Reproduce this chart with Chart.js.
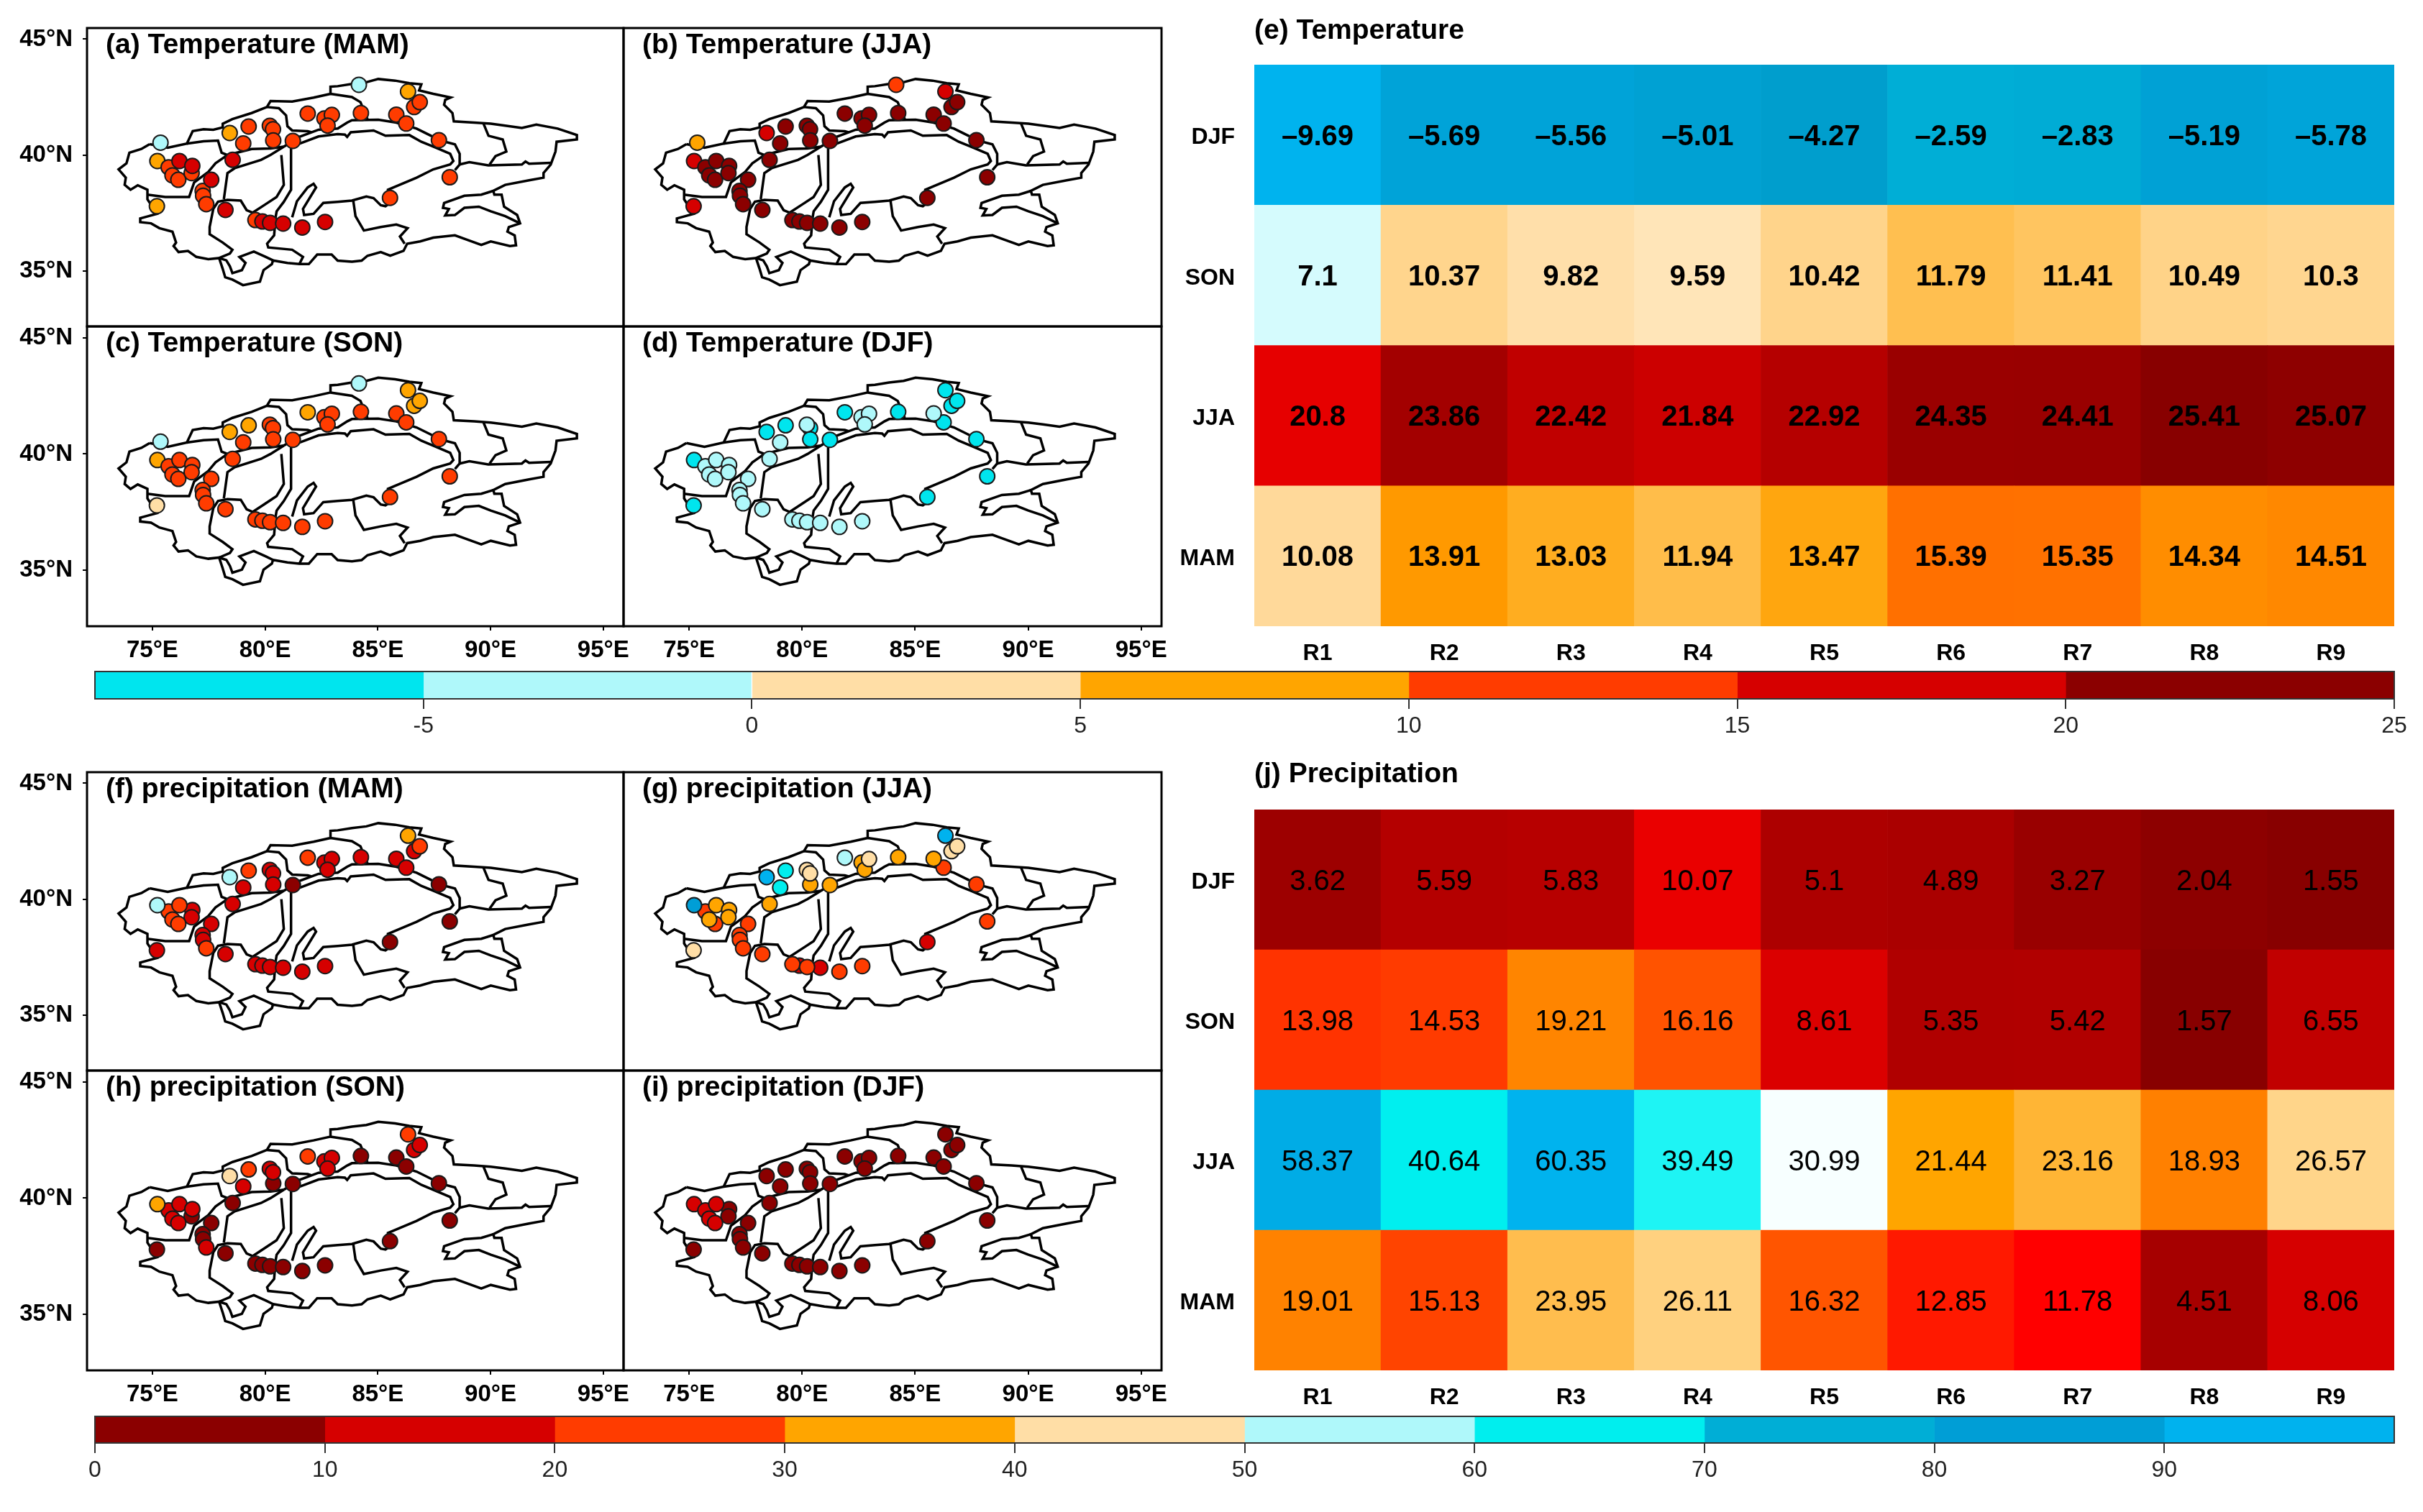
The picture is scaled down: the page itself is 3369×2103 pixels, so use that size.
<!DOCTYPE html>
<html>
<head>
<meta charset="utf-8">
<title>Temperature and precipitation by season</title>
<script src="https://cdn.jsdelivr.net/npm/chart.js@4/dist/chart.umd.min.js"></script>
<style>
  html, body { margin: 0; padding: 0; background: #fff; }
  body { position: relative; width: 3369px; height: 2103px; overflow: hidden; }
  canvas { position: absolute; }
</style>
</head>
<body>
<script>
// Heatmap tables
const regions = ['R1', 'R2', 'R3', 'R4', 'R5', 'R6', 'R7', 'R8', 'R9'];
const seasons = ['MAM', 'JJA', 'SON', 'DJF'];

const tempMAM = [10.08, 13.91, 13.03, 11.94, 13.47, 15.39, 15.35, 14.34, 14.51];
const tempJJA = [20.8, 23.86, 22.42, 21.84, 22.92, 24.35, 24.41, 25.41, 25.07];
const tempSON = [7.1, 10.37, 9.82, 9.59, 10.42, 11.79, 11.41, 10.49, 10.3];
const tempDJF = [-9.69, -5.69, -5.56, -5.01, -4.27, -2.59, -2.83, -5.19, -5.78];

const precipMAM = [19.01, 15.13, 23.95, 26.11, 16.32, 12.85, 11.78, 4.51, 8.06];
const precipJJA = [58.37, 40.64, 60.35, 39.49, 30.99, 21.44, 23.16, 18.93, 26.57];
const precipSON = [13.98, 14.53, 19.21, 16.16, 8.61, 5.35, 5.42, 1.57, 6.55];
const precipDJF = [3.62, 5.59, 5.83, 10.07, 5.1, 4.89, 3.27, 2.04, 1.55];

// Colour bars
const tempEdges = [-10, -5, 0, 5, 10, 15, 20, 25];
const tempColors = ['#00E5EE', '#AFF8FA', '#FFDEA6', '#FFA500', '#FF3C00', '#D60000', '#8B0000'];
const tempTicks = [-5, 0, 5, 10, 15, 20, 25];

const precipEdges = [0, 10, 20, 30, 40, 50, 60, 70, 80, 90, 100];
const precipColors = ['#8B0000', '#D60000', '#FF3C00', '#FFA500', '#FFDEA6', '#AFF8FA', '#00EEEE', '#00AED6', '#009ED6', '#00B2EE'];
const precipTicks = [0, 10, 20, 30, 40, 50, 60, 70, 80, 90];

// Heatmap colour ramps, value -> colour
const tempRamp = [
  [-9.69, '#00B3EE'], [-5.6, '#00A3D8'], [-4.27, '#009ECD'], [-2.59, '#00AED6'],
  [7.1, '#D5FBFD'], [9.59, '#FFE5B8'], [10.08, '#FFD99A'], [11.79, '#FFBF50'],
  [13.47, '#FFA60F'], [13.91, '#FF9900'], [15.39, '#FF7000'], [20.8, '#E60000'],
  [21.84, '#CC0000'], [22.92, '#B50000'], [23.86, '#A30000'], [25.41, '#880000']
];
const precipRamp = [
  [1.55, '#880000'], [3.27, '#990000'], [4.89, '#AA0000'], [5.83, '#B70000'],
  [8.06, '#D60000'], [10.07, '#EA0000'], [11.78, '#FF0000'], [13.98, '#FF3300'],
  [16.32, '#FF5500'], [19.21, '#FF8500'], [21.44, '#FFA500'], [23.95, '#FFBD4E'],
  [26.57, '#FFD58A'], [30.99, '#F7FFFF'], [39.49, '#1EF4F4'], [40.64, '#00EFEF'],
  [58.37, '#00ACE6'], [60.35, '#00B3EE']
];

// Station positions (lon, lat)
const stationLon = [75.36, 75.22, 75.72, 75.89, 76.20, 76.15, 76.77, 76.74, 77.61, 77.23, 77.25, 77.39, 75.20, 78.24,
  78.56, 79.03, 78.43, 79.27, 80.21, 80.35, 80.36, 81.23, 81.89, 82.63, 82.96, 82.77, 84.25, 85.82,
  86.26, 86.61, 86.86, 86.34, 84.16, 87.71, 88.19, 85.54, 79.57, 79.88, 80.22, 80.80, 81.65, 82.66];
const stationLat = [40.53, 39.74, 39.47, 39.12, 39.74, 38.93, 39.53, 39.22, 38.93, 38.45, 38.24, 37.88, 37.79, 37.63,
  39.79, 40.50, 40.95, 41.23, 41.26, 41.11, 40.63, 40.61, 41.79, 41.58, 41.73, 41.27, 41.81, 41.74,
  41.36, 42.07, 42.28, 42.74, 43.03, 40.64, 39.04, 38.15, 37.19, 37.13, 37.07, 37.04, 36.87, 37.11];

// Station values per panel, read to the colour class only
const stationTempMAM = [-2, 7, 12, 12, 17, 12, 17, 12, 17, 12, 12, 12, 7, 17, 17, 12, 7, 12, 12, 12, 12, 12, 12, 12, 12, 12, 12, 12, 12, 12, 12, 7, -2, 12, 12, 12, 12, 17, 17, 17, 17, 17];
const stationTempJJA = [7, 17, 22, 22, 22, 22, 22, 22, 22, 22, 22, 22, 17, 22, 22, 22, 17, 22, 22, 22, 22, 22, 22, 22, 22, 22, 22, 22, 22, 22, 22, 17, 12, 22, 22, 22, 22, 22, 22, 22, 22, 22];
const stationTempSON = [-2, 7, 12, 12, 12, 12, 12, 12, 12, 12, 12, 12, 3, 12, 12, 12, 7, 7, 12, 12, 12, 12, 7, 12, 12, 12, 12, 12, 12, 7, 7, 7, -2, 12, 12, 12, 12, 12, 12, 12, 12, 12];
const stationTempDJF = [null, -7, -2, -2, -2, -2, -2, -2, -2, -2, -2, -2, -7, -2, -2, -2, -7, -7, -2, -7, -7, -7, -7, -2, -2, -2, -7, -2, -7, -7, -7, -7, null, -7, -7, -7, -2, -2, -2, -2, -2, -2];
const stationPrecipMAM = [null, 55, 25, 25, 25, 25, 15, 15, 15, 15, 15, 25, 15, 15, 15, 15, 55, 25, 15, 15, 15, 5, 25, 15, 15, 15, 15, 15, 15, 15, 25, 35, null, 5, 5, 5, 15, 15, 15, 15, 15, 15];
const stationPrecipJJA = [null, 85, 25, 35, 35, 25, 35, 35, 25, 25, 25, 25, 45, 25, 35, 65, 92, 65, 45, 45, 35, 35, 55, 35, 45, 35, 35, 35, 25, 45, 45, 92, null, 25, 25, 15, 25, 15, 25, 15, 25, 25];
const stationPrecipSON = [null, 35, 15, 15, 15, 15, 15, 5, 5, 5, 5, 15, 5, 5, 5, 15, 45, 25, 15, 15, 5, 5, 25, 15, 15, 15, 5, 5, 5, 15, 15, 25, null, 5, 5, 5, 5, 5, 5, 5, 5, 5];
const stationPrecipDJF = [null, 15, 15, 15, 15, 15, 5, 5, 5, 5, 5, 5, 5, 5, 5, 5, 5, 5, 5, 5, 5, 5, 5, 5, 5, 5, 5, 5, 5, 5, 5, 5, null, 5, 5, 5, 5, 5, 5, 5, 5, 5];

// Basin boundary lines (lon, lat)
const outerLine = [[74.88,40.47],[74.51,40.26],[73.98,40.10],[73.85,39.64],[73.50,39.38],[73.82,39.02],[73.77,38.71],[74.03,38.50],[74.35,38.69],[74.78,38.50],[74.78,38.09],[75.20,37.46],[74.83,37.36],[74.46,37.26],[74.46,37.10],[74.94,37.05],[75.31,36.84],[75.89,36.69],[76.05,36.22],[75.94,36.07],[76.16,35.81],[76.58,35.86],[76.95,35.60],[77.48,35.50],[77.96,35.55],[78.12,35.08],[78.23,34.72],[78.55,34.62],[79.02,34.38],[79.77,34.53],[79.93,35.03],[80.30,35.29],[80.35,35.45],[80.99,35.34],[81.52,35.29],[81.94,35.29],[82.31,35.70],[82.95,35.70],[83.22,35.44],[83.85,35.39],[84.28,35.44],[84.54,35.65],[85.13,35.81],[85.55,35.65],[86.14,35.86],[86.30,36.17],[86.88,36.27],[87.46,36.43],[88.42,36.53],[88.84,36.38],[89.59,36.12],[90.01,36.27],[90.86,36.07],[91.13,36.10],[91.07,36.53],[90.75,36.69],[90.81,36.89],[91.31,37.05],[91.18,37.41],[90.60,37.77],[90.49,38.29],[90.17,38.29],[90.12,38.45],[90.65,38.71],[91.71,38.91],[92.35,39.02],[92.35,39.22],[92.67,39.59],[92.88,40.15],[92.93,40.57],[93.83,40.67],[93.83,40.86],[92.98,41.14],[92.03,41.31],[91.39,41.17],[90.65,41.27],[90.01,41.35],[89.27,41.40],[88.37,41.45],[88.31,41.81],[87.94,42.17],[87.99,42.38],[88.23,42.48],[87.46,42.64],[86.83,42.79],[86.93,43.05],[86.40,43.10],[85.77,43.21],[85.02,43.28],[84.49,43.14],[83.85,43.07],[83.22,42.97],[82.90,42.95],[82.90,42.64],[82.15,42.48],[81.20,42.31],[80.24,42.33],[80.08,42.07],[79.40,41.81],[78.55,41.55],[78.12,41.35],[78.12,41.19],[77.70,41.09],[77.27,41.11],[76.79,41.03],[76.53,40.49],[75.68,40.31],[74.88,40.47]];
const eastNotchLine = [[91.31,37.05],[90.65,37.36],[90.01,37.57],[89.48,37.77],[88.84,37.72],[88.42,37.41],[87.99,37.39],[88.15,37.67],[87.89,37.72],[87.94,37.93],[88.84,38.24],[89.59,38.29],[90.12,38.45]];
const southLobeLine = [[80.35,35.45],[80.03,35.60],[79.50,35.83],[78.86,35.60],[79.13,35.34],[78.97,35.03],[78.55,34.90],[78.44,35.19],[78.28,35.45],[77.96,35.55]];
const westBranchLine = [[76.53,40.49],[77.27,40.59],[77.91,40.62],[78.07,40.10],[78.33,40.00],[79.40,40.26],[80.24,40.28],[80.83,40.36]];
const northBranchA = [[80.08,42.07],[80.61,42.02],[80.93,41.71],[80.99,41.24],[81.20,41.06],[81.89,41.03],[82.05,40.98]];
const northBranchB = [[82.90,42.64],[83.85,42.50],[84.23,42.28],[84.54,41.55]];
const outerRingLine = [[80.83,40.36],[81.52,40.78],[82.37,41.09],[83.22,41.14],[83.64,41.40],[83.85,41.50],[85.02,41.52],[85.82,41.40],[86.72,41.14],[87.36,40.83],[87.71,40.64],[88.42,40.46],[88.63,40.05],[88.63,39.59],[88.42,39.35]];
const innerRingLine = [[81.15,40.36],[81.52,40.49],[82.37,40.80],[83.22,40.90],[83.54,40.88],[83.64,40.78],[83.80,40.98],[84.81,41.06],[85.34,40.83],[86.40,40.86],[86.93,40.57],[87.46,40.36],[88.21,40.05],[88.35,39.74],[88.21,39.59],[87.46,39.38],[86.72,39.02],[85.45,38.50],[85.50,37.90],[85.34,37.79],[85.13,37.83],[84.81,38.14],[84.49,38.21],[83.85,38.03],[83.22,37.98],[82.58,37.93],[82.15,37.46],[81.73,37.41],[81.68,37.67],[82.26,38.60],[82.15,38.76],[81.89,38.60],[81.41,38.00],[81.20,37.31]];
const channelLineA = [[81.15,40.36],[81.15,38.50],[80.83,37.98],[80.51,37.57],[80.46,37.27],[80.40,36.53],[80.09,36.17],[80.14,36.01],[81.20,35.91],[81.68,35.60],[81.52,35.29]];
const channelLineB = [[80.72,40.00],[80.83,38.71],[80.51,38.19],[80.03,37.88],[79.45,37.51],[79.18,37.62],[78.92,38.03],[78.33,38.06],[77.91,37.98],[77.70,37.67],[77.54,36.89],[77.54,36.58],[78.12,36.22],[78.55,35.91],[78.44,35.75],[77.96,35.55]];
const aksuLine = [[80.83,40.36],[80.24,40.00],[79.82,39.79],[78.65,39.43],[78.33,39.22],[78.17,38.09]];
const kashgarLine = [[78.33,40.00],[77.80,39.64],[77.48,39.27],[76.85,38.81],[76.63,38.19],[75.57,38.19],[74.78,38.29]];
const southBranchLine = [[83.91,38.03],[84.01,37.36],[84.38,36.74],[85.13,36.89],[85.82,37.00],[86.32,36.84],[85.98,36.48],[86.19,36.17]];
const eastBranchA = [[89.69,41.35],[89.91,40.83],[90.54,40.67],[90.70,40.15],[90.22,39.95],[89.96,39.59]];
const eastBranchB = [[88.63,39.59],[89.06,39.69],[89.90,39.55],[91.39,39.59],[91.55,39.72],[91.71,39.62],[92.67,39.66]];
const basinLines = [outerLine, eastNotchLine, southLobeLine, westBranchLine, northBranchA, northBranchB, outerRingLine,
  innerRingLine, channelLineA, channelLineB, aksuLine, kashgarLine, southBranchLine, eastBranchA, eastBranchB];

const lonTicks = [75, 80, 85, 90, 95];
const latTicks = [35, 40, 45];

const FONT = '"Liberation Sans", Arial, sans-serif';

function hexToRgb(hex) {
  return [1, 3, 5].map(i => parseInt(hex.substr(i, 2), 16));
}

// piecewise lookup for the heatmap cells
function rampColor(v, ramp) {
  if (v <= ramp[0][0]) return ramp[0][1];
  for (let i = 1; i < ramp.length; i++) {
    if (v <= ramp[i][0]) {
      const t = (v - ramp[i - 1][0]) / (ramp[i][0] - ramp[i - 1][0]);
      const a = hexToRgb(ramp[i - 1][1]);
      const b = hexToRgb(ramp[i][1]);
      return 'rgb(' + a.map((c, k) => Math.round(c + (b[k] - c) * t)).join(',') + ')';
    }
  }
  return ramp[ramp.length - 1][1];
}

function binColor(v, edges, colors) {
  for (let i = 0; i < colors.length; i++) {
    if (v < edges[i + 1]) return colors[i];
  }
  return colors[colors.length - 1];
}

// Stroke a frame round the plot area and write the panel title
const panelPlugin = {
  id: 'panelPlugin',
  afterDraw(chart, args, opts) {
    const ctx = chart.ctx;
    const a = chart.chartArea;
    ctx.save();
    if (opts.frameWidth) {
      ctx.strokeStyle = opts.frameColor || '#000';
      ctx.lineWidth = opts.frameWidth;
      ctx.strokeRect(a.left, a.top, a.right - a.left, a.bottom - a.top);
    }
    if (opts.title) {
      ctx.fillStyle = '#000';
      ctx.font = 'bold 39px ' + FONT;
      ctx.textBaseline = 'middle';
      ctx.textAlign = 'left';
      ctx.fillText(opts.title, a.left + opts.titleX, a.top + opts.titleY);
    }
    ctx.restore();
  }
};

// Value written in the middle of each heatmap cell
const cellTextPlugin = {
  id: 'cellTextPlugin',
  afterDatasetsDraw(chart, args, opts) {
    const ctx = chart.ctx;
    ctx.save();
    ctx.fillStyle = '#000';
    ctx.font = opts.weight + ' 40px ' + FONT;
    ctx.textAlign = 'center';
    ctx.textBaseline = 'middle';
    chart.data.datasets.forEach((ds, d) => {
      chart.getDatasetMeta(d).data.forEach((bar, i) => {
        const label = String(ds.cellValues[i]).replace('-', '\u2013');
        ctx.fillText(label, bar.x, (bar.y + bar.base) / 2 + 3);
      });
    });
    ctx.restore();
  }
};

function makeCanvas(left, top, width, height) {
  const c = document.createElement('canvas');
  c.width = width;
  c.height = height;
  c.style.left = left + 'px';
  c.style.top = top + 'px';
  c.style.width = width + 'px';
  c.style.height = height + 'px';
  document.body.appendChild(c);
  return c;
}

function drawMap(box, values, edges, colors, title, showLat, showLon) {
  const mL = 110, mR = 60, mT = 45, mB = 70;
  const w = box.right - box.left;
  const h = box.bottom - box.top;
  const canvas = makeCanvas(box.left - mL, box.top - mT, w + mL + mR, h + mT + mB);

  const order = values.map((v, i) => i).filter(i => values[i] !== null);
  order.sort((p, q) => values[p] - values[q] || p - q);

  const lines = basinLines.map(line => ({
    data: line.map(p => ({ x: p[0], y: p[1] })),
    showLine: true,
    borderColor: '#000',
    borderWidth: 3.5,
    pointRadius: 0,
    tension: 0,
    order: 2
  }));
  const stations = {
    data: order.map(i => ({ x: stationLon[i], y: stationLat[i] })),
    showLine: false,
    pointRadius: 10.5,
    pointBorderWidth: 2,
    pointBorderColor: '#1a1a1a',
    pointBackgroundColor: order.map(i => binColor(values[i], edges, colors)),
    order: 1
  };

  new Chart(canvas, {
    type: 'scatter',
    data: { datasets: lines.concat([stations]) },
    plugins: [panelPlugin],
    options: {
      responsive: false,
      animation: false,
      events: [],
      layout: { padding: { left: showLat ? 0 : mL, right: mR, top: mT, bottom: showLon ? 0 : mB } },
      plugins: {
        legend: { display: false },
        tooltip: { enabled: false },
        panelPlugin: { frameWidth: 3, frameColor: '#000', title: title, titleX: 26, titleY: 24 }
      },
      scales: {
        x: {
          type: 'linear',
          display: showLon,
          min: 72.1,
          max: 95.9,
          afterBuildTicks: axis => { axis.ticks = lonTicks.map(v => ({ value: v })); },
          afterFit: axis => { axis.height = showLon ? mB : 0; },
          grid: { drawOnChartArea: false, tickLength: 6, color: '#000', lineWidth: 2 },
          border: { display: false },
          ticks: {
            autoSkip: false, maxRotation: 0, padding: 8, color: '#000',
            font: { family: FONT, size: 33, weight: 'bold' },
            callback: v => v + '\u00B0E'
          }
        },
        y: {
          type: 'linear',
          display: showLat,
          min: 32.6,
          max: 45.48,
          afterBuildTicks: axis => { axis.ticks = latTicks.map(v => ({ value: v })); },
          afterFit: axis => { axis.width = showLat ? mL : 0; },
          grid: { drawOnChartArea: false, tickLength: 6, color: '#000', lineWidth: 2 },
          border: { display: false },
          ticks: {
            autoSkip: false, padding: 14, color: '#000',
            font: { family: FONT, size: 33, weight: 'bold' },
            callback: v => v + '\u00B0N'
          }
        }
      }
    }
  });
}

function drawHeatmap(box, rows, ramp, title, weight) {
  const mL = 130, mR = 20, mT = 80, mB = 70;
  const w = box.right - box.left;
  const h = box.bottom - box.top;
  const canvas = makeCanvas(box.left - mL, box.top - mT, w + mL + mR, h + mT + mB);

  const datasets = rows.map(row => ({
    data: regions.map(() => 1),
    cellValues: row,
    backgroundColor: row.map(v => rampColor(v, ramp)),
    borderWidth: 0,
    barPercentage: 1,
    categoryPercentage: 1
  }));

  new Chart(canvas, {
    type: 'bar',
    data: { labels: regions, datasets: datasets },
    plugins: [panelPlugin, cellTextPlugin],
    options: {
      responsive: false,
      animation: false,
      events: [],
      layout: { padding: { top: mT, right: mR } },
      plugins: {
        legend: { display: false },
        tooltip: { enabled: false },
        panelPlugin: { title: title, titleX: 0, titleY: box.titleOffset },
        cellTextPlugin: { weight: weight }
      },
      scales: {
        x: {
          stacked: true,
          afterFit: axis => { axis.height = mB; },
          grid: { display: false },
          border: { display: false },
          ticks: { maxRotation: 0, padding: 11, color: '#000', font: { family: FONT, size: 32, weight: 'bold' } }
        },
        y: {
          stacked: true,
          min: 0,
          max: seasons.length,
          afterBuildTicks: axis => { axis.ticks = seasons.map((s, i) => ({ value: i + 0.5 })); },
          afterFit: axis => { axis.width = mL; },
          grid: { display: false },
          border: { display: false },
          ticks: {
            autoSkip: false, padding: 19, labelOffset: 4, color: '#000',
            font: { family: FONT, size: 32, weight: 'bold' },
            callback: v => seasons[Math.floor(v)]
          }
        }
      }
    }
  });
}

function drawColorBar(box, edges, colors, ticks) {
  const mL = 40, mR = 40, mT = 6, mB = 70;
  const w = box.right - box.left;
  const h = box.bottom - box.top;
  const canvas = makeCanvas(box.left - mL, box.top - mT, w + mL + mR, h + mT + mB);

  const datasets = colors.map((c, i) => ({
    data: [[edges[i], edges[i + 1]]],
    backgroundColor: c,
    borderWidth: 0,
    grouped: false,
    barPercentage: 1,
    categoryPercentage: 1
  }));

  new Chart(canvas, {
    type: 'bar',
    data: { labels: [''], datasets: datasets },
    plugins: [panelPlugin],
    options: {
      indexAxis: 'y',
      responsive: false,
      animation: false,
      events: [],
      layout: { padding: { left: mL, right: mR, top: mT } },
      plugins: {
        legend: { display: false },
        tooltip: { enabled: false },
        panelPlugin: { frameWidth: 2, frameColor: '#333' }
      },
      scales: {
        x: {
          type: 'linear',
          min: edges[0],
          max: edges[edges.length - 1],
          afterBuildTicks: axis => { axis.ticks = ticks.map(v => ({ value: v })); },
          afterFit: axis => { axis.height = mB; },
          grid: { drawOnChartArea: false, tickLength: 14, color: '#333', lineWidth: 2 },
          border: { display: false },
          ticks: { autoSkip: false, maxRotation: 0, padding: 5, color: '#222', font: { family: FONT, size: 32 } }
        },
        y: { display: false }
      }
    }
  });
}

// Map panels
const leftCol = { left: 121, right: 867 };
const rightCol = { left: 867, right: 1615 };
function mapBox(col, top, bottom) {
  return { left: col.left, right: col.right, top: top, bottom: bottom };
}

drawMap(mapBox(leftCol, 39, 454), stationTempMAM, tempEdges, tempColors, '(a) Temperature (MAM)', true, false);
drawMap(mapBox(rightCol, 39, 454), stationTempJJA, tempEdges, tempColors, '(b) Temperature (JJA)', false, false);
drawMap(mapBox(leftCol, 454, 871), stationTempSON, tempEdges, tempColors, '(c) Temperature (SON)', true, true);
drawMap(mapBox(rightCol, 454, 871), stationTempDJF, tempEdges, tempColors, '(d) Temperature (DJF)', false, true);

drawMap(mapBox(leftCol, 1074, 1489), stationPrecipMAM, precipEdges, precipColors, '(f) precipitation (MAM)', true, false);
drawMap(mapBox(rightCol, 1074, 1489), stationPrecipJJA, precipEdges, precipColors, '(g) precipitation (JJA)', false, false);
drawMap(mapBox(leftCol, 1489, 1906), stationPrecipSON, precipEdges, precipColors, '(h) precipitation (SON)', true, true);
drawMap(mapBox(rightCol, 1489, 1906), stationPrecipDJF, precipEdges, precipColors, '(i) precipitation (DJF)', false, true);

// Heatmaps
drawHeatmap({ left: 1744, right: 3329, top: 90, bottom: 871, titleOffset: -47 },
  [tempMAM, tempJJA, tempSON, tempDJF], tempRamp, '(e) Temperature', 'bold');
drawHeatmap({ left: 1744, right: 3329, top: 1126, bottom: 1906, titleOffset: -49 },
  [precipMAM, precipJJA, precipSON, precipDJF], precipRamp, '(j) Precipitation', 'normal');

// Colour bars
drawColorBar({ left: 132, right: 3329, top: 934, bottom: 972 }, tempEdges, tempColors, tempTicks);
drawColorBar({ left: 132, right: 3329, top: 1970, bottom: 2007 }, precipEdges, precipColors, precipTicks);
</script>
</body>
</html>
